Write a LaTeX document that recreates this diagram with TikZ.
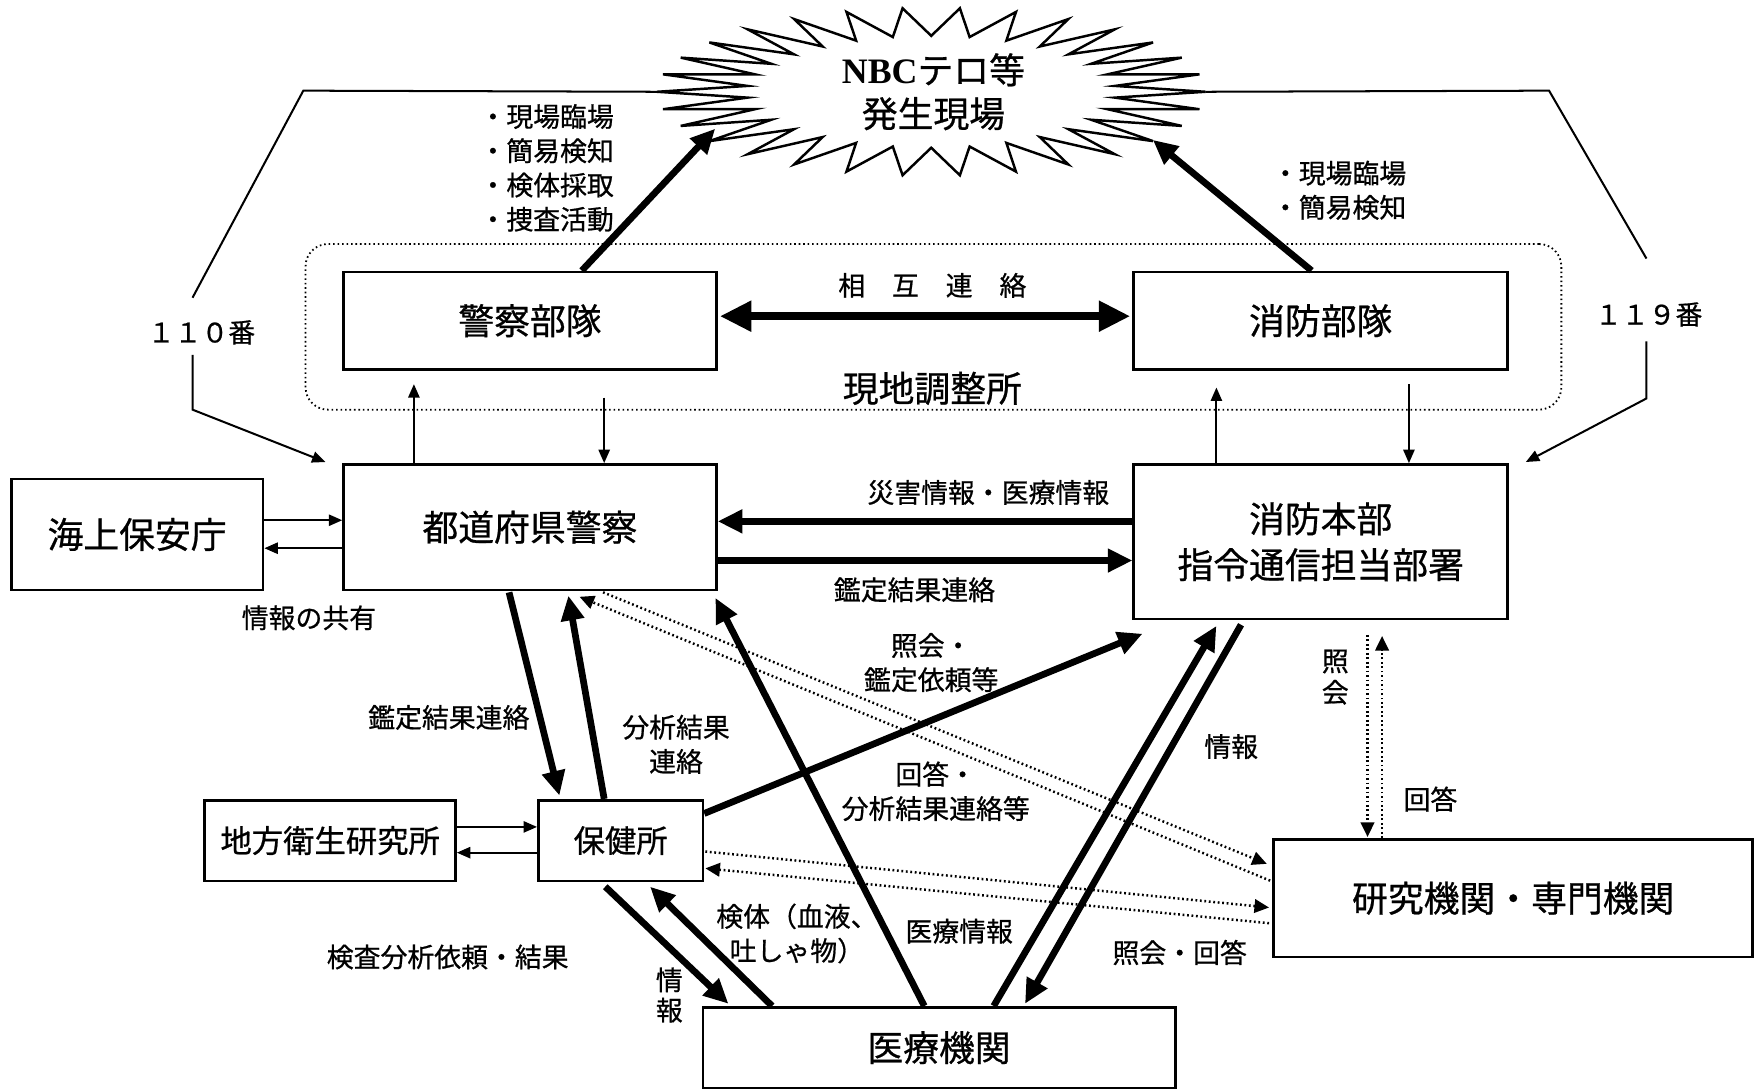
\documentclass[tikz,border=0pt]{standalone}
\usepackage{fontspec}
\setmainfont[FakeBold=0.7]{Noto Sans CJK JP}
\newfontfamily\nbcfont{Liberation Serif}
\usetikzlibrary{arrows.meta, calc}

\begin{document}
\begin{tikzpicture}[
          x = 0.5pt, y = -0.5pt,
          > = {Triangle[length=6pt, width=5pt]},
  org/.style = {draw, line width=1.2pt, fill=white, inner sep=0pt, align=center,
                font=\fontsize{16}{20.5}\selectfont},
 note/.style = {inner sep=0pt, align=center, font=\fontsize{12}{15.3}\selectfont},
 flow/.style = {line width=3pt, -{Triangle[length=11pt, width=10pt]}},
 link/.style = {line width=0.9pt, ->},
query/.style = {line width=1.1pt, dash pattern=on 0.8pt off 1.2pt,
                -{Triangle[length=6.5pt, width=6pt]}},
phone/.style = {line width=0.9pt},
burst/.style = {line width=1.1pt, fill=white},
 site/.style = {draw, line width=0.8pt, dash pattern=on 0.7pt off 1.3pt,
                rounded corners=10pt, inner sep=0pt}
                    ]
\useasboundingbox (0,0) rectangle (1568,974);
% on-site coordination area
\node[site, minimum width=561pt, minimum height=74pt] (site) at (834,292) {};
\node[font=\fontsize{16}{20}\selectfont, inner sep=0pt] (siteName) at (833,347) {現地調整所};
% scene of the incident
\draw[burst] (1077,82)
    \foreach \k in {0,...,29} {
        -- ({832+165*cos(12*\k+6)}, {82+50*sin(12*\k+6)})
        -- ({832+245*cos(12*\k+12)}, {82+75*sin(12*\k+12)})
    } -- cycle;
\node[align=center, inner sep=0pt, font=\fontsize{16}{19.5}\selectfont] (scene) at (834,82)
    {{\nbcfont\bfseries NBC}テロ等\\発生現場};
\coordinate (burstW)  at (587,82);
\coordinate (burstE)  at (1077,82);
\coordinate (burstSW) at (639,115);
\coordinate (burstSE) at (1030,125);
% units and offices
\node[org, minimum width=166.5pt, minimum height=43.5pt] (pbt)  at (473.5,286.5) {警察部隊};
\node[org, minimum width=167pt,   minimum height=43.5pt] (fbt)  at (1180,286.5)  {消防部隊};
\node[org, minimum width=166.5pt, minimum height=56pt]   (pref) at (473.5,471)   {都道府県警察};
\node[org, minimum width=167pt,   minimum height=69pt]   (fhq)  at (1180,484)    {消防本部\\指令通信担当部署};
\node[org, minimum width=112.5pt, minimum height=49.5pt] (coast) at (122.5,477.5) {海上保安庁};
\node[org, minimum width=112pt, minimum height=36pt, font=\fontsize{14}{17}\selectfont] (lab) at (295,751) {地方衛生研究所};
\node[org, minimum width=73.5pt, minimum height=36pt, font=\fontsize{14}{17}\selectfont] (hc) at (554.5,751) {保健所};
\node[org, minimum width=214pt, minimum height=52.5pt] (res) at (1352,802.5) {研究機関・専門機関};
\node[org, minimum width=211pt, minimum height=36pt]   (med) at (839,936)     {医療機関};
% emergency calls
\draw[phone] (burstW) -- (271,81) -- (172,266);
\draw[phone, ->] (172,317) -- (172,366) -- ($(pref.north west)+(-15,-1)$);
\node[note] (tel110) at (180,297) {１１０番};
\draw[phone] (burstE) -- (1384,81) -- (1471,231);
\draw[phone, ->] (1471,305) -- (1471,356) -- ($(fhq.north east)+(15,-1)$);
\node[note] (tel119) at (1473,281) {１１９番};
% dispatch to the scene
\draw[flow] ($(pbt.north west)+(214,0)$) -- (burstSW);
\draw[flow] ($(fbt.north west)+(160,0)$) -- (burstSE);
\node[note, align=left, anchor=west] (dutyP) at (428,150) {・現場臨場\\・簡易検知\\・検体採取\\・捜査活動};
\node[note, align=left, anchor=west] (dutyF) at (1136,170) {・現場臨場\\・簡易検知};
\draw[line width=3.4pt, {Triangle[length=14pt, width=13pt]}-{Triangle[length=14pt, width=13pt]}]
    ($(pbt.east)+(2,-4)$) -- ($(fbt.west)+(-2,-4)$);
\node[note] (mutual) at (833,255) {相　互　連　絡};
% headquarters and units
\draw[link] ($(pref.north west)+(64,0)$) -- ($(pbt.south west)+(64,12)$);
\draw[link] ($(pbt.south west)+(234,24)$) -- ($(pref.north west)+(234,0)$);
\draw[link] ($(fhq.north west)+(75,0)$) -- ($(fbt.south west)+(75,15)$);
\draw[link] ($(fbt.south west)+(247,12)$) -- ($(fhq.north west)+(247,0)$);
% sharing with the coast guard and the institute
\draw[link] ($(coast.north east)+(0,38)$) -- ($(pref.north west)+(0,51)$);
\draw[link] ($(pref.north west)+(0,76)$) -- ($(coast.north east)+(0,63)$);
\node[note] (share) at (276,552) {情報の共有};
\draw[link] ($(lab.north east)+(0,25)$) -- ($(hc.north west)+(0,25)$);
\draw[link] ($(hc.north west)+(0,48)$) -- ($(lab.north east)+(0,48)$);
\node[note] (testReq) at (400,855) {検査分析依頼・結果};
% police and fire headquarters
\draw[flow] ($(fhq.north west)+(0,52)$) -- ($(pref.north east)+(0,52)$);
\draw[flow] ($(pref.north east)+(0,87)$) -- ($(fhq.north west)+(0,87)$);
\node[note] (infoDis) at (883,440) {災害情報・医療情報};
\node[note] (resultF) at (817,527) {鑑定結果連絡};
% health centre
\draw[flow] ($(pref.south west)+(149,1)$) -- ($(hc.north west)+(20,-3)$);
\draw[flow] ($(hc.north west)+(60,0)$) -- ($(pref.south west)+(202,4)$);
\node[note] (resultH) at (401,641) {鑑定結果連絡};
\node[note] (analysis) at (604,665) {分析結果\\連絡};
\draw[flow] ($(hc.north east)+(0,13)$) -- ($(fhq.south west)+(9,12)$);
\node[note] (request) at (832,592) {照会・\\鑑定依頼等};
% medical institutions
\draw[flow] ($(med.north west)+(199,0)$) -- ($(pref.south east)+(-2,6)$);
\node[note] (medInfo) at (857,832) {医療情報};
\draw[flow] ($(med.north west)+(261,0)$) -- ($(fhq.south west)+(75,5)$);
\draw[flow] ($(fhq.south west)+(97,4)$) -- ($(med.north west)+(289,-2)$);
\node[note] (infoF) at (1100,667) {情報};
\node[note] (askAns) at (1054,851) {照会・回答};
\draw[flow] ($(hc.south west)+(61,4)$) -- ($(med.north west)+(24,-2)$);
\draw[flow] ($(med.north west)+(63,0)$) -- ($(hc.south west)+(101,4)$);
\node[note, font=\fontsize{12}{13.5}\selectfont] (infoH) at (598,889) {情\\報};
\node[note] (sample) at (712,834) {検体（血液、\\吐しゃ物）};
% research and expert institutions
\draw[query] ($(res.north west)+(-2,38)$) -- ($(pref.south west)+(212,5)$);
\draw[query] ($(pref.south west)+(233,1)$) -- ($(res.north west)+(-5,23)$);
\draw[query] ($(hc.north east)+(1,47)$) -- ($(res.north west)+(-3,62)$);
\draw[query] ($(res.north west)+(-3,76)$) -- ($(hc.north east)+(1,62)$);
\node[note] (answer) at (836,707) {回答・\\分析結果連絡等};
\draw[query] ($(fhq.south west)+(210,13)$) -- ($(res.north west)+(85,-1)$);
\draw[query] ($(res.north west)+(98,0)$) -- ($(fhq.south west)+(223,14)$);
\node[note, font=\fontsize{12}{14}\selectfont] (askV) at (1193,605) {照\\会};
\node[note] (ansV) at (1278,714) {回答};
\end{tikzpicture}
\end{document}
